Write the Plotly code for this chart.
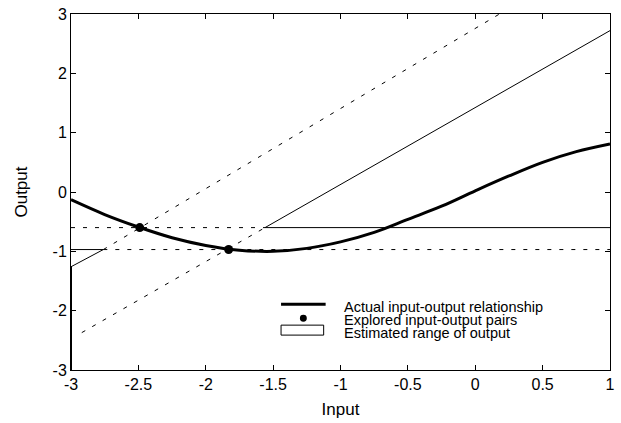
import plotly.graph_objects as go

# ---- data ----
curve_x = [-3.0, -2.75, -2.5, -2.25, -2.0, -1.75, -1.5, -1.25, -1.0, -0.75, -0.5, -0.25, 0.0, 0.25, 0.5, 0.75, 1.0]
curve_y = [-0.13, -0.38, -0.59, -0.77, -0.90, -0.98, -1.00, -0.95, -0.84, -0.68, -0.46, -0.24, 0.02, 0.27, 0.50, 0.68, 0.81]

pairs_x = [-2.49, -1.83]
pairs_y = [-0.60, -0.97]

# bound line through first explored pair
lineA_x = [-3.0, -2.76, 0.18]
lineA_y = [-1.26, -0.97, 3.0]
# bound line through second explored pair
lineB_x = [-2.92, -1.56, 1.0]
lineB_y = [-2.37, -0.60, 2.72]
# horizontal levels of explored outputs
upper_x = [-3.0, -1.56, 1.0]
upper_level = -0.60
lower_x = [-3.0, -2.76, 1.0]
lower_level = -0.97

edge_x = [-3.0, -3.0]
edge_y = [-1.26, -3.0]

x_ticks = [-3, -2.5, -2, -1.5, -1, -0.5, 0, 0.5, 1]
y_ticks = [-3, -2, -1, 0, 1, 2, 3]

legend_labels = ["Actual input-output relationship",
                 "Explored input-output pairs",
                 "Estimated range of output"]

FONT = "Liberation Sans, Arial, sans-serif"
NARROW = "Liberation Sans Narrow, Arial Narrow, Liberation Sans, Arial, sans-serif"
DASH = "4px,8px"

fig = go.Figure()

def seg(xs, ys, dash=None, width=1):
    fig.add_trace(go.Scatter(x=xs, y=ys, mode="lines",
                             line=dict(color="black", width=width, dash=dash),
                             showlegend=False, hoverinfo="skip"))

# line A: solid on the left part, dashed after
seg(lineA_x[0:2], lineA_y[0:2])
seg(lineA_x[1:3], lineA_y[1:3], DASH)
# line B: dashed on the left part, solid after
seg(lineB_x[0:2], lineB_y[0:2], DASH)
seg(lineB_x[1:3], lineB_y[1:3])
# upper horizontal level
seg(upper_x[0:2], [upper_level] * 2, DASH)
seg(upper_x[1:3], [upper_level] * 2)
# lower horizontal level
seg(lower_x[0:2], [lower_level] * 2)
seg(lower_x[1:3], [lower_level] * 2, DASH)
# edge of range at left border
fig.add_trace(go.Scatter(x=edge_x, y=edge_y, mode="lines", cliponaxis=False,
                         line=dict(color="black", width=2),
                         showlegend=False, hoverinfo="skip"))

# actual relationship
fig.add_trace(go.Scatter(x=curve_x, y=curve_y, mode="lines",
                         line=dict(color="black", width=3, shape="spline", smoothing=1.0),
                         showlegend=False, hoverinfo="skip"))
# explored pairs
fig.add_trace(go.Scatter(x=pairs_x, y=pairs_y, mode="markers",
                         marker=dict(color="black", size=9),
                         showlegend=False, hoverinfo="skip"))

# ---- manual compact legend (paper coordinates) ----
L, T, B = 71, 13, 370
W, H = 544, 357
def px(x):
    return (x - L) / W
def py(y):
    return (B - y) / H

fig.add_shape(type="line", xref="paper", yref="paper",
              x0=px(283), x1=px(328), y0=py(304), y1=py(304),
              line=dict(color="black", width=3))
fig.add_shape(type="circle", xref="paper", yref="paper",
              x0=px(302), x1=px(309), y0=py(321.5), y1=py(314.5),
              fillcolor="black", line=dict(color="black", width=0))
fig.add_shape(type="rect", xref="paper", yref="paper",
              x0=px(283), x1=px(326), y0=py(335), y1=py(325),
              line=dict(color="black", width=1))
for i, lab in enumerate(legend_labels):
    fig.add_annotation(text=lab, xref="paper", yref="paper",
                       x=px(345), y=py(306.5 + 13 * i), xanchor="left", yanchor="middle",
                       showarrow=False, font=dict(family=NARROW, size=14.5, color="black"))

axis_common = dict(showline=True, linecolor="black", linewidth=1, mirror="ticks",
                   ticks="inside", ticklen=5, tickcolor="black", showgrid=False,
                   zeroline=False, tickfont=dict(family=FONT, size=16, color="black"))

fig.update_xaxes(range=[-3, 1], tickvals=x_ticks, ticktext=[f"{v:g}" for v in x_ticks],
                 title=dict(text="Input", font=dict(family=FONT, size=17, color="black"), standoff=10),
                 **axis_common)
fig.update_yaxes(range=[-3, 3], tickvals=y_ticks, ticktext=[f"{v:g}" for v in y_ticks],
                 title=dict(text="Output", font=dict(family=FONT, size=17, color="black"), standoff=20),
                 **axis_common)

fig.update_layout(width=621, height=423,
                  margin=dict(l=71, r=6, t=13, b=53),
                  plot_bgcolor="white", paper_bgcolor="white",
                  showlegend=False)

fig.write_html("out.html")
